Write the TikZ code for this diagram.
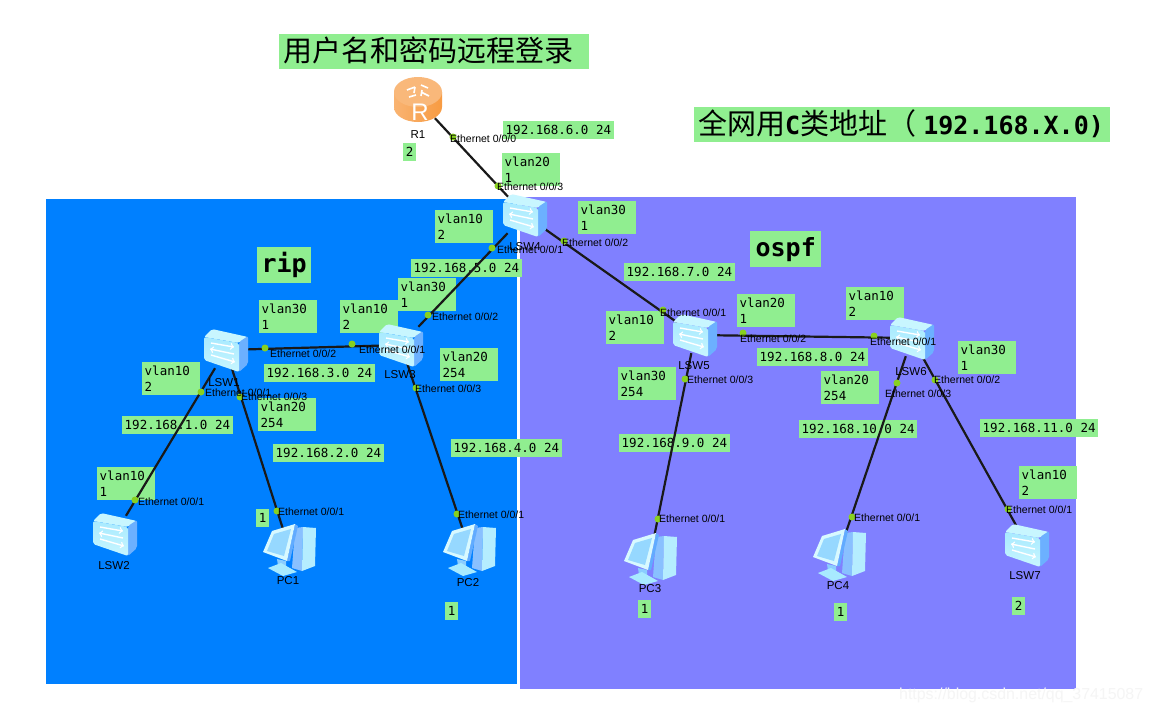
\documentclass[tikz,border=0pt]{standalone}
\usepackage{fontspec}
\usetikzlibrary{positioning, calc}
\setmainfont{Liberation Sans}
\newfontfamily\cjkfont{Noto Sans CJK SC}
\newfontfamily\monofont{DejaVu Sans Mono}
\definecolor{Rip}{HTML}{0080FF}
\definecolor{Ospf}{HTML}{8080FF}
\definecolor{Tag}{HTML}{90EE90}
\definecolor{Port}{HTML}{88D020}
\definecolor{Front}{HTML}{A8EAFF}
\definecolor{Side}{HTML}{6CB0FF}
\definecolor{Roof}{HTML}{C8F6FF}
\definecolor{Copper}{HTML}{F7A04E}
\tikzset{
    x=1pt, y=-1pt,
    titlebox/.style={fill=Tag, anchor=north west, inner xsep=4pt, inner ysep=0pt, minimum height=35pt, text depth=6pt, align=left, font=\cjkfont\fontsize{29}{32}\selectfont},
    areabox/.style={fill=Tag, anchor=north west, inner sep=0pt, minimum height=36pt, font=\monofont\bfseries\fontsize{25}{28}\selectfont},
    vlanbox/.style={fill=Tag, anchor=north west, align=left, text width=53pt, inner xsep=2.5pt, inner ysep=0pt, minimum height=33pt, font=\monofont\fontsize{12.5}{16.5}\selectfont},
    netbox/.style={fill=Tag, anchor=north west, inner xsep=2.5pt, inner ysep=0pt, minimum height=18pt, font=\monofont\fontsize{12.5}{16}\selectfont},
    hostbox/.style={fill=Tag, anchor=north west, inner sep=0pt, minimum width=13pt, minimum height=18pt, font=\monofont\fontsize{12.5}{16}\selectfont},
    device/.style={inner sep=0pt, minimum width=36pt, minimum height=36pt},
    devname/.style={inner sep=0pt, font=\fontsize{11.5}{13}\selectfont},
    portdot/.style={circle, fill=Port, inner sep=0pt, minimum size=7pt},
    portname/.style={anchor=west, inner sep=0pt, font=\fontsize{10.5}{12}\selectfont},
    link/.style={line width=2.2pt, black!90},
    switchicon/.pic={
        \fill[Roof, rounded corners=2pt] (-22,-13) -- (-14,-21) -- (22,-13) -- (13,-7) -- cycle;
        \fill[Side, rounded corners=2pt] (13,-8) -- (22,-14) -- (22,14) -- (13,22) -- cycle;
        \shade[top color=Front, bottom color=Roof, rounded corners=2pt] (-22,-13) -- (13,-7) -- (13,22) -- (-22,10) -- cycle;
        \draw[white, line width=1.4pt, ->] (-15,-7) -- (8,-3);
        \draw[white, line width=1.4pt, ->] (8,4) -- (-16,-1);
        \draw[white, line width=1.4pt, ->] (-15,5) -- (9,12);
    },
    routericon/.pic={
        \shade[left color=Copper!80!white, right color=Copper!85!orange] (-24,-8) -- (-24,7) arc[start angle=180, end angle=360, x radius=24, y radius=-15] -- (24,-8) -- cycle;
        \fill[Copper!75!white] (0,-8) ellipse[x radius=24, y radius=15];
        \draw[white, line width=1.6pt] (-11,-10) -- (-3,-13) (3,-15) -- (10,-12) (-9,-3) -- (-2,-5) (3,-8) -- (11,-4) (-3,-13) -- (-4,-7) (4,-10) -- (3,-4);
        \node[inner sep=0pt, text=white, font=\fontsize{24}{24}\selectfont] (rmark) at (2,12) {R};
    },
    pcicon/.pic={
        % torre
        \fill[Side!80!white] (6,-20) -- (14,-21) -- (13,23) -- (3,20) -- cycle;
        \fill[Front!85!white] (14,-21) -- (27,-20) -- (26,18) -- (13,23) -- cycle;
        % base
        \fill[Side!50!Front] (-12,11) -- (-3,13) -- (-3,20) -- (-11,18) -- cycle;
        \fill[Front] (-21,20) -- (-8,15) -- (8,24) -- (-6,28) -- cycle;
        % schermo
        \fill[Side!90!Rip] (6,-24) -- (9,-22) -- (1,13) -- (-2,13) -- cycle;
        \fill[Roof!70!white] (-26,4) -- (-17,-17) -- (6,-24) -- (-2,13) -- cycle;
        \fill[Front!70!Side] (-22,3) -- (-15,-14) -- (2,-19) -- (-5,8) -- cycle;
    },
}
\begin{document}
\begin{tikzpicture}
    \useasboundingbox (0,0) rectangle (1152,713);
    \fill[white] (0,0) rectangle (1152,713);

    % Aree
    \fill[Rip] (46,199) rectangle (517,684);
    \fill[Ospf] (520,197) rectangle (1076,689);

    % Titoli
    \node[titlebox, text width=302pt] (title) at (279,34) {用户名和密码远程登录};
    \node[titlebox, text width=408pt] (subtitle) at (694,107) {全网用{\monofont\bfseries\fontsize{25}{28}\selectfont C}类地址（\hspace{7pt}{\monofont\bfseries\fontsize{25}{28}\selectfont 192.168.X.0)}};
    \node[areabox, minimum width=54pt] (rip) at (257,247) {rip};
    \node[areabox, minimum width=71pt] (ospf) at (750,231) {ospf};

    % Etichette vlan
    \node[vlanbox] (v20s4) at (502,153) {vlan20\\1};
    \node[vlanbox] (v10s4) at (435,210) {vlan10\\2};
    \node[vlanbox] (v30s4) at (578,201) {vlan30\\1};
    \node[vlanbox] (v30s3) at (398,278) {vlan30\\1};
    \node[vlanbox] (v10s3) at (340,300) {vlan10\\2};
    \node[vlanbox] (v30s1) at (259,300) {vlan30\\1};
    \node[vlanbox] (v20s3) at (440,348) {vlan20\\254};
    \node[vlanbox] (v10s1) at (142,362) {vlan10\\2};
    \node[vlanbox] (v20s1) at (258,398) {vlan20\\254};
    \node[vlanbox] (v10s2) at (97,467) {vlan10\\1};
    \node[vlanbox] (v10s5) at (606,311) {vlan10\\2};
    \node[vlanbox] (v20s5) at (737,294) {vlan20\\1};
    \node[vlanbox] (v30s5) at (618,367) {vlan30\\254};
    \node[vlanbox] (v10s6) at (846,287) {vlan10\\2};
    \node[vlanbox] (v20s6) at (821,371) {vlan20\\254};
    \node[vlanbox] (v30s6) at (958,341) {vlan30\\1};
    \node[vlanbox] (v10s7) at (1019,466) {vlan10\\2};

    % Reti
    \node[netbox] (net6) at (503,121) {192.168.6.0 24};
    \node[netbox] (net5) at (411,259) {192.168.5.0 24};
    \node[netbox] (net3) at (264,364) {192.168.3.0 24};
    \node[netbox] (net1) at (122,416) {192.168.1.0 24};
    \node[netbox] (net2) at (273,444) {192.168.2.0 24};
    \node[netbox] (net4) at (451,439) {192.168.4.0 24};
    \node[netbox] (net7) at (624,263) {192.168.7.0 24};
    \node[netbox] (net8) at (757,348) {192.168.8.0 24};
    \node[netbox] (net9) at (619,434) {192.168.9.0 24};
    \node[netbox] (net10) at (799,420) {192.168.10.0 24};
    \node[netbox] (net11) at (980,419) {192.168.11.0 24};

    % Indirizzi host
    \node[hostbox] (hostR) at (403,143) {2};
    \node[hostbox] (hostA) at (256,509) {1};
    \node[hostbox] (hostB) at (445,602) {1};
    \node[hostbox] (hostC) at (638,600) {1};
    \node[hostbox] (hostD) at (834,603) {1};
    \node[hostbox] (hostE) at (1012,597) {2};

    % Apparati
    \node[device] (R1) at (418,100) {};
    \node[device] (LSW4) at (525,215) {};
    \node[device] (LSW3) at (401,345) {};
    \node[device] (LSW1) at (226,350) {};
    \node[device] (LSW2) at (115,534) {};
    \node[device] (LSW5) at (695,335) {};
    \node[device] (LSW6) at (912,338) {};
    \node[device] (LSW7) at (1027,545) {};
    \node[device] (PC1) at (289,548) {};
    \node[device] (PC2) at (469,548) {};
    \node[device] (PC3) at (650,557) {};
    \node[device] (PC4) at (839,553) {};

    % Collegamenti
    \draw[link] (R1) -- (LSW4);
    \draw[link] (LSW4) -- (LSW3);
    \draw[link] (LSW4) -- (LSW5);
    \draw[link] (LSW3) -- (LSW1);
    \draw[link] (LSW1) -- (LSW2);
    \draw[link] (LSW1) -- (PC1);
    \draw[link] (LSW3) -- (PC2);
    \draw[link] (LSW5) -- (LSW6);
    \draw[link] (LSW5) -- (PC3);
    \draw[link] (LSW6) -- (PC4);
    \draw[link] (LSW6) -- (LSW7);

    % Icone
    \pic at (R1) {routericon};
    \pic at (LSW4) {switchicon};
    \pic at (LSW3) {switchicon};
    \pic at (LSW1) {switchicon};
    \pic at (LSW2) {switchicon};
    \pic at (LSW5) {switchicon};
    \pic at (LSW6) {switchicon};
    \pic at (LSW7) {switchicon};
    \pic at (PC1) {pcicon};
    \pic at (PC2) {pcicon};
    \pic at (PC3) {pcicon};
    \pic at (PC4) {pcicon};

    % Nomi
    \node[devname] (nR1) at (418,135) {R1};
    \node[devname] (n4) at (525,247) {LSW4};
    \node[devname] (n3) at (400,375) {LSW3};
    \node[devname] (n1) at (224,383) {LSW1};
    \node[devname] (n2) at (114,566) {LSW2};
    \node[devname] (n5) at (694,366) {LSW5};
    \node[devname] (n6) at (911,372) {LSW6};
    \node[devname] (n7) at (1025,576) {LSW7};
    \node[devname] (nP1) at (288,581) {PC1};
    \node[devname] (nP2) at (468,583) {PC2};
    \node[devname] (nP3) at (650,589) {PC3};
    \node[devname] (nP4) at (838,586) {PC4};

    % Porte
    \node[portdot] (d1) at (453,137) {};
    \node[portdot] (d2) at (498,186) {};
    \node[portdot] (d3) at (492,248) {};
    \node[portdot] (d4) at (564,241) {};
    \node[portdot] (d5) at (428,315) {};
    \node[portdot] (d6) at (352,344) {};
    \node[portdot] (d7) at (416,388) {};
    \node[portdot] (d8) at (265,348) {};
    \node[portdot] (d9) at (201,392) {};
    \node[portdot] (d10) at (240,397) {};
    \node[portdot] (d11) at (135,500) {};
    \node[portdot] (d12) at (277,511) {};
    \node[portdot] (d13) at (457,514) {};
    \node[portdot] (d14) at (663,310) {};
    \node[portdot] (d15) at (743,333) {};
    \node[portdot] (d16) at (685,379) {};
    \node[portdot] (d17) at (874,336) {};
    \node[portdot] (d18) at (897,383) {};
    \node[portdot] (d19) at (935,380) {};
    \node[portdot] (d20) at (1008,509) {};
    \node[portdot] (d21) at (658,519) {};
    \node[portdot] (d22) at (852,517) {};

    \node[portname] (e1) at (450,139) {Ethernet 0/0/0};
    \node[portname] (e2) at (497,187) {Ethernet 0/0/3};
    \node[portname] (e3) at (497,250) {Ethernet 0/0/1};
    \node[portname] (e4) at (562,243) {Ethernet 0/0/2};
    \node[portname] (e5) at (432,317) {Ethernet 0/0/2};
    \node[portname] (e6) at (359,350) {Ethernet 0/0/1};
    \node[portname] (e7) at (415,389) {Ethernet 0/0/3};
    \node[portname] (e8) at (270,354) {Ethernet 0/0/2};
    \node[portname] (e9) at (205,393) {Ethernet 0/0/1};
    \node[portname] (e10) at (241,397) {Ethernet 0/0/3};
    \node[portname] (e11) at (138,502) {Ethernet 0/0/1};
    \node[portname] (e12) at (278,512) {Ethernet 0/0/1};
    \node[portname] (e13) at (458,515) {Ethernet 0/0/1};
    \node[portname] (e14) at (660,313) {Ethernet 0/0/1};
    \node[portname] (e15) at (740,339) {Ethernet 0/0/2};
    \node[portname] (e16) at (687,380) {Ethernet 0/0/3};
    \node[portname] (e17) at (870,342) {Ethernet 0/0/1};
    \node[portname] (e18) at (885,394) {Ethernet 0/0/3};
    \node[portname] (e19) at (934,380) {Ethernet 0/0/2};
    \node[portname] (e20) at (1006,510) {Ethernet 0/0/1};
    \node[portname] (e21) at (659,519) {Ethernet 0/0/1};
    \node[portname] (e22) at (854,518) {Ethernet 0/0/1};

    % Filigrana
    \node[anchor=west, inner sep=0pt, text=white!92!gray, font=\fontsize{15.9}{18}\selectfont] (mark) at (899,695) {https://blog.csdn.net/qq\_37415087};
\end{tikzpicture}
\end{document}
